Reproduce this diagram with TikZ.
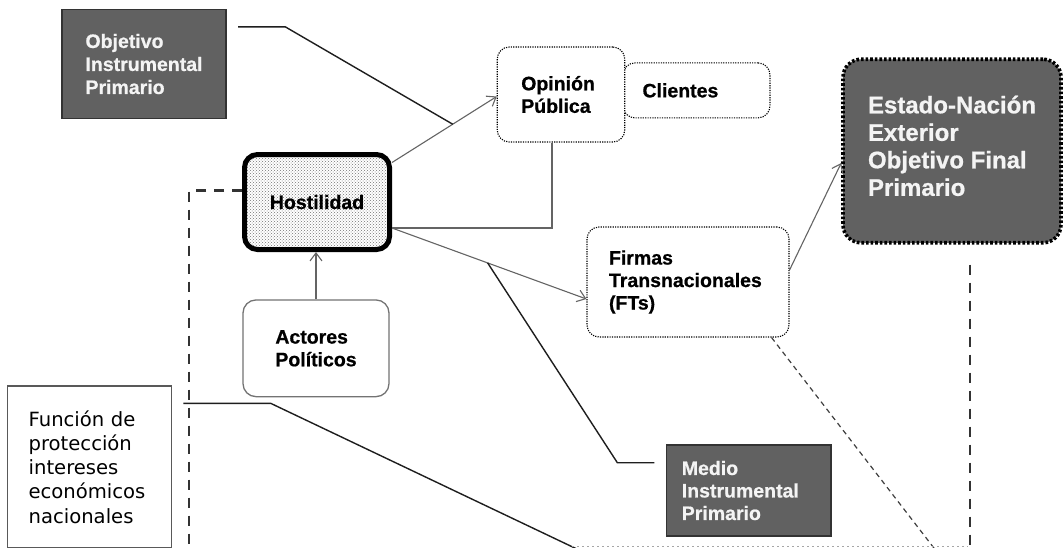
\documentclass[tikz,border=0pt]{standalone}
\usepackage{fontspec}
\setmainfont{Liberation Sans}[BoldFont={Liberation Sans Bold}, BoldFeatures={FakeBold=0.7}]
\newfontfamily\dejavu{DejaVu Sans}
\usetikzlibrary{arrows.meta,calc,patterns}
\definecolor{darkfill}{RGB}{97,97,97}
\definecolor{paletext}{RGB}{244,244,244}
\definecolor{linegray}{RGB}{100,100,100}
\definecolor{inkline}{RGB}{30,30,30}
\begin{document}
\begin{tikzpicture}[x=1pt,y=-1pt,
  darkbox/.style={draw=black!80, line width=1.2pt, fill=darkfill, text=paletext,
    inner ysep=0pt, align=left, font=\fontsize{19.5}{23}\selectfont\bfseries},
  dotbox/.style={draw=black, line width=1.1pt, dash pattern=on 1.2pt off 1.2pt,
    rounded corners=12pt, fill=white, inner ysep=0pt, align=left,
    font=\fontsize{19.5}{22.5}\selectfont\bfseries},
  conn/.style={draw=linegray, line width=1.1pt},
  arrowconn/.style={conn, -{Straight Barb[length=8pt,width=12pt]}},
  inkconn/.style={draw=inkline, line width=1.4pt},
  thickdash/.style={draw=black!80, line width=2.6pt, dash pattern=on 10pt off 8pt},
  thindash/.style={draw=black!75, line width=1.2pt, dash pattern=on 5pt off 4pt}
]
\useasboundingbox (0,0) rectangle (1063,547);
\clip (0,0) rectangle (1063,547);
\fill[white] (0,0) rectangle (1063,547);

% nodes
\node[darkbox, minimum width=164pt, minimum height=109pt, inner xsep=23.5pt, text width=117pt]
  (obj) at (144,64) {Objetivo\\Instrumental\\Primario};

\node[dotbox, minimum width=147pt, minimum height=55pt, inner xsep=19.5pt, text width=108pt]
  (cli) at (696.5,90.4) {Clientes};
\node[dotbox, minimum width=127.5pt, minimum height=95pt, inner xsep=24pt, text width=79.5pt]
  (opin) at (561,94.5) {Opinión\\Pública};

\node[draw=black, line width=3.6pt, dash pattern=on 2.6pt off 2pt, rounded corners=18pt,
  fill=darkfill, text=paletext, align=left, inner sep=0pt,
  font=\fontsize{24}{27.5}\selectfont\bfseries,
  minimum width=218pt, minimum height=183.5pt]
  (est) at (952,151) {Estado-Nación\\Exterior\\Objetivo Final\\Primario\\[-17pt]};

\node[dotbox, minimum width=202pt, minimum height=110pt, inner xsep=22pt, text width=158pt]
  (firm) at (688,282) {Firmas\\Transnacionales\\(FTs)};

\node[draw=black, line width=5pt, rounded corners=13pt,
  preaction={fill=white}, pattern=crosshatch dots, pattern color=black!55,
  minimum width=145pt, minimum height=95pt, inner sep=0pt,
  font=\fontsize{19.5}{23}\selectfont\bfseries]
  (host) at (317,202) {Hostilidad};

\node[draw=black!55, line width=1.3pt, rounded corners=13pt, fill=white,
  align=left, inner sep=0pt, font=\fontsize{19.5}{22.7}\selectfont\bfseries,
  minimum width=146pt, minimum height=96.7pt]
  (act) at (316,348.3) {Actores\\Políticos};

\node[draw=black!65, line width=1.4pt, fill=white, align=left,
  inner ysep=0pt, inner xsep=21.3pt, text width=121.7pt,
  font=\fontsize{19.6}{24.2}\selectfont\dejavu,
  minimum width=164.3pt, minimum height=162pt]
  (func) at (89.5,467) {Función de\\protección\\intereses\\económicos\\nacionales};

\node[darkbox, minimum width=164.3pt, minimum height=91pt, inner xsep=15pt, text width=134pt,
  font=\fontsize{19.5}{22.5}\selectfont\bfseries]
  (medio) at (748.8,490.5) {Medio\\Instrumental\\Primario};

% connectors
\coordinate (hA) at ([yshift=-10.5pt]host.north east);
\coordinate (oA) at ([yshift=-2pt]opin.west);
\draw[arrowconn] (hA) -- (oA);
\draw[inkconn] ([xshift=11.5pt,yshift=-18pt]obj.north east) -- ++(47.3,0) -- ($(hA)!0.58!(oA)$);

\coordinate (hB) at ([yshift=-26pt]host.east);
\coordinate (fB) at ([yshift=-17pt]firm.west);
\draw[conn] (hB) -| ([xshift=-9pt]opin.south);
\draw[arrowconn] (hB) -- (fB);
\draw[inkconn] ([xshift=-11.7pt,yshift=27.8pt]medio.west) -- ++(-37,0) -- ($(hB)!0.492!(fB)$);

\draw[arrowconn] (act.north) -- (act.north |- host.south);

\draw[arrowconn] ([yshift=12pt]firm.east) -- ([yshift=-12pt]est.west);

\coordinate (dL) at (189,555);
\draw[thickdash] ([yshift=11.3pt]host.west) -| (dL);

\coordinate (fEnd) at (580,550.5);
\draw[inkconn] ([xshift=11pt,yshift=-18pt]func.north east) -- ++(87.3,0) -- (fEnd);

\coordinate (dR) at (970,555);
\draw[thickdash] ([xshift=18pt,yshift=-20pt]est.south) -- (dR);

\coordinate (dF) at (937,552);
\draw[thindash] ([xshift=-18pt]firm.south east) -- (dF);

\coordinate (bL) at (572,546);
\coordinate (bR) at (968,546);
\draw[black!35, line width=1pt, dash pattern=on 2pt off 3pt] (bL) -- (bR);
\end{tikzpicture}
\end{document}
